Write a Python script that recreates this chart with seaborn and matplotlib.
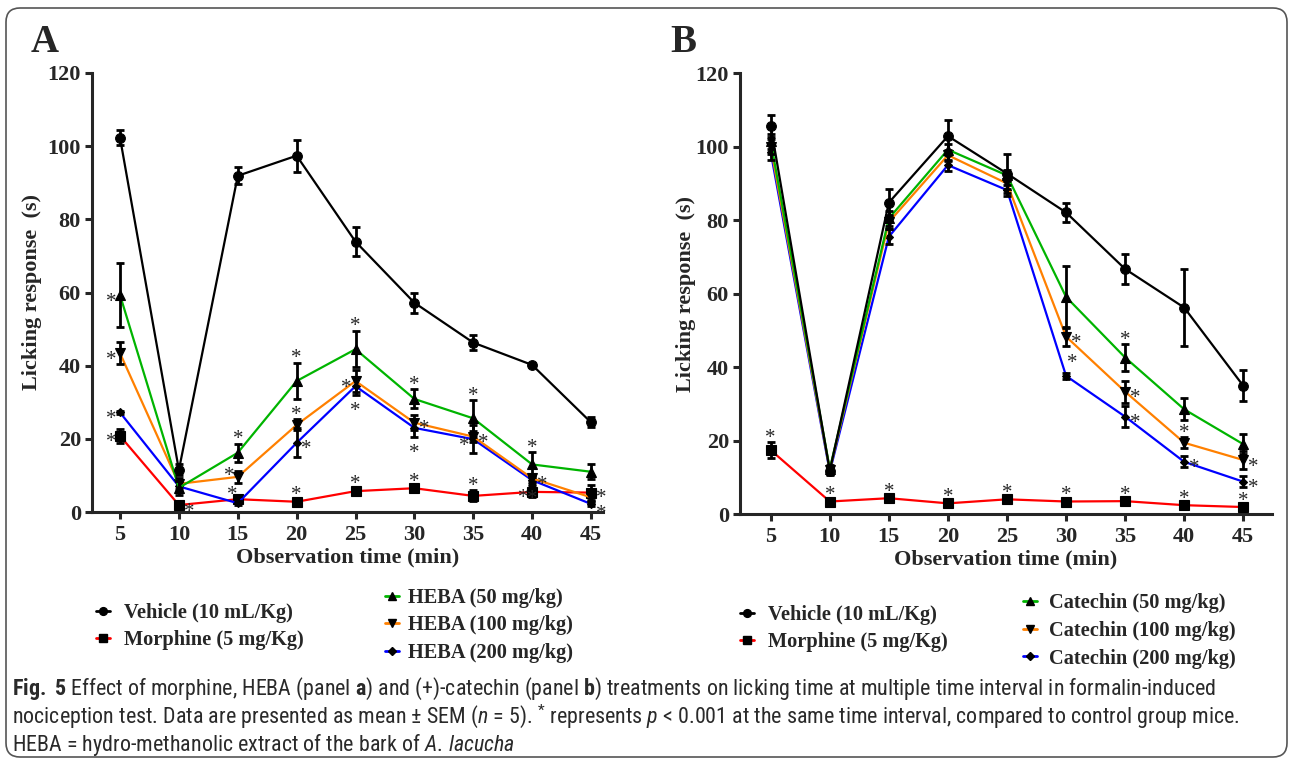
import matplotlib
matplotlib.use("Agg")
import matplotlib.pyplot as plt
import seaborn as sns
import pandas as pd
from matplotlib.lines import Line2D
from matplotlib.patches import FancyBboxPatch
from matplotlib import font_manager

# ---------------- data ----------------
times = [5, 10, 15, 20, 25, 30, 35, 40, 45]
yticks = [0, 20, 40, 60, 80, 100, 120]

groups_a = ["Vehicle (10 mL/Kg)", "Morphine (5 mg/Kg)", "HEBA (50 mg/kg)",
            "HEBA (100 mg/kg)", "HEBA (200 mg/kg)"]
groups_b = ["Vehicle (10 mL/Kg)", "Morphine (5 mg/Kg)", "Catechin (50 mg/kg)",
            "Catechin (100 mg/kg)", "Catechin (200 mg/kg)"]

# Panel A (mean, SEM)
a_vehicle = [102.3, 11.5, 91.9, 97.4, 73.9, 57.2, 46.3, 40.2, 24.5]
a_vehicle_sem = [2.1, 1.5, 2.3, 4.4, 4.0, 2.8, 2.0, 0.5, 1.4]
a_morphine = [20.8, 1.9, 3.5, 2.8, 5.7, 6.5, 4.4, 5.5, 5.3]
a_morphine_sem = [2.0, 0.5, 1.0, 0.6, 0.6, 0.6, 1.5, 1.5, 2.0]
a_heba50 = [59.3, 6.6, 16.2, 35.8, 44.5, 30.9, 25.6, 13.0, 11.0]
a_heba50_sem = [8.7, 2.0, 2.4, 5.0, 5.0, 2.6, 5.0, 3.3, 2.0]
a_heba100 = [43.4, 7.7, 9.6, 23.8, 35.8, 24.4, 20.6, 9.2, 4.0]
a_heba100_sem = [3.0, 1.5, 1.7, 1.5, 3.0, 2.0, 1.5, 1.0, 1.0]
a_heba200 = [27.2, 7.0, 2.4, 18.9, 34.4, 23.0, 19.9, 8.7, 2.2]
a_heba200_sem = [0.3, 1.5, 0.5, 4.0, 2.5, 2.5, 3.8, 1.0, 0.5]

# Panel B (mean, SEM)
b_vehicle = [105.7, 11.8, 84.8, 102.9, 92.7, 82.1, 66.7, 56.2, 34.9]
b_vehicle_sem = [3.0, 1.0, 3.6, 4.5, 5.4, 2.7, 4.2, 10.4, 4.2]
b_morphine = [17.4, 3.4, 4.3, 2.9, 4.0, 3.4, 3.5, 2.4, 1.9]
b_morphine_sem = [2.2, 0.5, 0.5, 0.5, 0.5, 0.5, 0.5, 0.5, 0.5]
b_cat50 = [101.5, 12.3, 80.5, 99.2, 92.2, 59.1, 42.6, 28.5, 19.0]
b_cat50_sem = [2.0, 1.0, 2.0, 1.5, 1.5, 8.5, 3.6, 3.0, 2.7]
b_cat100 = [100.0, 12.0, 79.5, 97.7, 90.0, 48.3, 33.3, 19.4, 14.7]
b_cat100_sem = [2.0, 1.0, 2.0, 1.5, 1.5, 2.5, 3.0, 1.5, 2.5]
b_cat200 = [98.5, 11.5, 75.5, 95.0, 88.2, 37.6, 26.5, 14.2, 8.8]
b_cat200_sem = [2.0, 1.0, 2.0, 1.5, 1.5, 0.8, 2.8, 1.5, 1.5]

# significance marks: (group index, time, side)
stars_a = [(2, 5, "L"), (3, 5, "L"), (4, 5, "L"), (1, 5, "L"),
           (1, 10, "R"),
           (2, 15, "U"), (3, 15, "LU"), (1, 15, "UL"),
           (2, 20, "U"), (3, 20, "U"), (4, 20, "R"), (1, 20, "U"),
           (2, 25, "U"), (3, 25, "L"), (4, 25, "D"), (1, 25, "U"),
           (2, 30, "U"), (3, 30, "R"), (4, 30, "D"), (1, 30, "U"),
           (2, 35, "U"), (3, 35, "R"), (4, 35, "L"), (1, 35, "U"),
           (2, 40, "U"), (3, 40, "R"), (4, 40, "D"), (1, 40, "L"),
           (3, 45, "RU"), (4, 45, "RD")]
stars_b = [(1, t, "U") for t in times] + \
          [(3, 30, "R"), (4, 30, "UR"), (2, 35, "U"), (3, 35, "R"), (4, 35, "R"),
           (3, 40, "U"), (4, 40, "R"), (3, 45, "R"), (4, 45, "R")]

# ---------------- style ----------------
W, H = 1293, 762
colors = ["black", "#ff0000", "#00b400", "#ff8000", "#0000ff"]
markers = ["o", "s", "^", "v", "D"]
msizes = [7, 7, 7, 7, 4.5]
draw_order = [1, 4, 3, 2, 0]
serif = "Liberation Serif"

avail = {f.name for f in font_manager.fontManager.ttflist}
cap_font = next((f for f in ["Liberation Sans Narrow", "Roboto Condensed", "Open Sans Condensed",
                             "Open Sans", "Liberation Sans"] if f in avail), "DejaVu Sans")

sns.set_style("ticks")
plt.rcParams["font.family"] = [serif, "DejaVu Serif"]
plt.rcParams["font.weight"] = "bold"
plt.rcParams["axes.labelweight"] = "bold"
plt.rcParams["mathtext.fontset"] = "custom"
plt.rcParams["mathtext.rm"] = cap_font + ":normal"
plt.rcParams["mathtext.it"] = cap_font + ":italic:normal"
plt.rcParams["mathtext.bf"] = cap_font + ":bold"

fig = plt.figure(figsize=(W / 100, H / 100), dpi=100)
fig.patch.set_facecolor("white")

axA = fig.add_axes([92 / W, 1 - 512 / H, (603 - 92) / W, (512 - 73) / H])
axB = fig.add_axes([740 / W, 1 - 514 / H, (1272 - 740) / W, (514 - 73.3) / H])

PX = 72 / 100.0  # px -> pt

star_off = {"U": (0, 8), "D": (0, -12), "L": (-9, -3), "R": (10, -3),
            "UR": (6, 13), "UL": (-6, 4), "LU": (-9, 4), "RU": (10, 3), "RD": (10, -7)}


def draw_panel(ax, names, vals, sems, xlim, stars, ylabelpad):
    rows = []
    for g, v, s in zip(names, vals, sems):
        for t, vi, si in zip(times, v, s):
            rows.append({"time": t, "value": vi, "sem": si, "group": g})
    df = pd.DataFrame(rows)
    for i in draw_order:
        sub = df[df.group == names[i]]
        sns.lineplot(data=sub, x="time", y="value", color=colors[i], marker=markers[i],
                     markersize=msizes[i], markerfacecolor="black", markeredgecolor="black",
                     markeredgewidth=0.8, linewidth=1.6, errorbar=None, legend=False,
                     ax=ax, zorder=3)
        ax.errorbar(sub.time, sub.value, yerr=sub["sem"], fmt="none", ecolor="black",
                    elinewidth=2.0, capsize=3, capthick=2.0, zorder=4)
    for gi, t, side in stars:
        k = times.index(t)
        v, s = vals[gi][k], sems[gi][k]
        if side in ("U", "UR", "UL"):
            y = v + s
        elif side == "D":
            y = v - s
        else:
            y = v
        dx, dy = star_off[side]
        ax.annotate("*", xy=(t, y), xytext=(dx * PX, (dy - 4) * PX), textcoords="offset points",
                    ha="center", va="center", fontsize=15, fontweight="normal",
                    fontfamily=serif, zorder=6)
    ax.set_xlim(*xlim)
    ax.set_ylim(0, 120)
    ax.set_xticks(times)
    ax.set_yticks(yticks)
    for side in ["top", "right"]:
        ax.spines[side].set_visible(False)
    for side in ["left", "bottom"]:
        ax.spines[side].set_linewidth(2.2)
    ax.tick_params(direction="out", length=5, width=2.2, labelsize=16, pad=3)
    ax.tick_params(axis="x", pad=4.5)
    ax.set_xlabel("Observation time (min)", fontsize=16, fontweight="bold", labelpad=2)
    ax.set_ylabel("Licking response  (s)", fontsize=16, fontweight="bold", labelpad=ylabelpad)


draw_panel(axA, groups_a,
           [a_vehicle, a_morphine, a_heba50, a_heba100, a_heba200],
           [a_vehicle_sem, a_morphine_sem, a_heba50_sem, a_heba100_sem, a_heba200_sem],
           (2.62, 46.02), stars_a, 4)
draw_panel(axB, groups_b,
           [b_vehicle, b_morphine, b_cat50, b_cat100, b_cat200],
           [b_vehicle_sem, b_morphine_sem, b_cat50_sem, b_cat100_sem, b_cat200_sem],
           (2.40, 47.43), stars_b, 0)

# panel letters
fig.text(45 / W, 1 - 42 / H, "A", fontsize=28, fontweight="bold", ha="center", va="center")
fig.text(683 / W, 1 - 42 / H, "B", fontsize=28, fontweight="bold", ha="center", va="center")


# legends
def handle(i):
    return Line2D([], [], color=colors[i], marker=markers[i], markersize=msizes[i] * 0.8,
                  markerfacecolor="black", markeredgecolor="black", linewidth=2)


def add_legend(idx, names, x_px, y_px, spacing, pad):
    fig.legend([handle(i) for i in idx], [names[i] for i in idx], loc="upper left",
               bbox_to_anchor=(x_px / W, 1 - y_px / H), bbox_transform=fig.transFigure,
               frameon=False, borderpad=0, borderaxespad=0, handlelength=0.7,
               handletextpad=pad, labelspacing=spacing,
               prop={"family": serif, "weight": "bold", "size": 14.7})


add_legend([0, 1], groups_a, 96, 603, 0.36, 0.68)
add_legend([2, 3, 4], groups_a, 385, 588, 0.36, 0.45)
add_legend([0, 1], groups_b, 740, 605, 0.36, 0.68)
add_legend([2, 3, 4], groups_b, 1023, 593, 0.38, 0.55)

# caption
cap_lines = [
    r"$\mathbf{Fig.\ 5}$ Effect of morphine, HEBA (panel $\mathbf{a}$) and (+)-catechin (panel $\mathbf{b}$) treatments on licking time at multiple time interval in formalin-induced",
    r"nociception test. Data are presented as mean ± SEM ($\mathit{n}$ = 5). $^{*}$ represents $\mathit{p}$ < 0.001 at the same time interval, compared to control group mice.",
    r"HEBA = hydro-methanolic extract of the bark of $\mathit{A.\,lacucha}$",
]
cap_y = [695, 723, 751]
renderer = fig.canvas.get_renderer()
probe = fig.text(0, 0, cap_lines[0], fontsize=13, fontfamily=cap_font, fontweight="normal")
w13 = probe.get_window_extent(renderer).width
probe.remove()
cap_size = 13 * 1200.0 / w13
for line, yb in zip(cap_lines, cap_y):
    fig.text(12 / W, 1 - yb / H, line, fontsize=cap_size, fontfamily=cap_font,
             fontweight="normal", color="#2a2a2a", ha="left", va="baseline")

# rounded frame
frame = FancyBboxPatch((6, 5), W - 12, H - 13, boxstyle="round,pad=0,rounding_size=14",
                       transform=None, fill=False, edgecolor="#555555", linewidth=1.2)
fig.add_artist(frame)

fig.savefig("out.png", dpi=100, facecolor="white")
